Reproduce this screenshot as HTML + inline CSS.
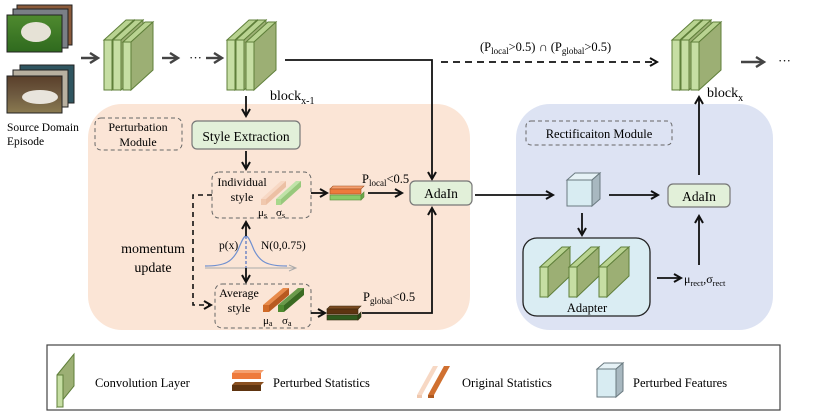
<!DOCTYPE html>
<html><head><meta charset="utf-8"><style>
html,body{margin:0;padding:0;background:#fff;}
svg{display:block;font-family:"Liberation Serif",serif;}
</style></head><body>
<svg width="831" height="416" viewBox="0 0 831 416" xmlns="http://www.w3.org/2000/svg">
<defs>
<marker id="ah" markerWidth="10" markerHeight="10" refX="8" refY="5" orient="auto" markerUnits="userSpaceOnUse"><path d="M1,1 L8,5 L1,9" fill="none" stroke="#111" stroke-width="2"/></marker>
<marker id="ahg" markerWidth="12" markerHeight="12" refX="9" refY="6" orient="auto" markerUnits="userSpaceOnUse"><path d="M1,1 L9,6 L1,11" fill="none" stroke="#444" stroke-width="2.4"/></marker>
<marker id="ahl" markerWidth="10" markerHeight="10" refX="8" refY="5" orient="auto" markerUnits="userSpaceOnUse"><path d="M1,2 L8,5 L1,8" fill="none" stroke="#aaa" stroke-width="1"/></marker>
<linearGradient id="grass" x1="0" y1="0" x2="0" y2="1"><stop offset="0" stop-color="#4f8a2f"/><stop offset="1" stop-color="#2f6a1e"/></linearGradient>
<linearGradient id="dirt" x1="0" y1="0" x2="0" y2="1"><stop offset="0" stop-color="#5a3f2a"/><stop offset="0.5" stop-color="#6e5a40"/><stop offset="1" stop-color="#8a7a50"/></linearGradient>
</defs>

<!-- backgrounds -->
<rect x="88" y="104" width="382" height="226" rx="34" fill="#fbe5d6"/>
<rect x="516" y="104" width="257" height="226" rx="34" fill="#dde3f3"/>

<!-- images -->
<g stroke="#222" stroke-width="1">
<rect x="17" y="5" width="55" height="40" fill="#8a5a3a"/>
<rect x="13" y="9" width="55" height="39" fill="#7a7f86"/>
<rect x="7" y="15" width="55" height="37" fill="url(#grass)"/>
<rect x="20" y="65" width="54" height="38" fill="#2f5560"/>
<rect x="13" y="70" width="55" height="37" fill="#b8b0a0"/>
<rect x="7" y="76" width="55" height="37" fill="url(#dirt)"/>
</g>
<ellipse cx="36" cy="32" rx="15" ry="10" fill="#e6e2d6"/>
<ellipse cx="40" cy="97" rx="18" ry="7" fill="#e8e4dc"/>
<text x="7" y="131" font-size="11.5">Source Domain</text>
<text x="7" y="145" font-size="11.5">Episode</text>

<!-- conv blocks -->
<g id="blk1" stroke="#5f7f3a" stroke-width="1">
<g><polygon points="104,40 126,20 134,20 112,40" fill="#b9d391"/><polygon points="112,40 134,20 134,70 112,90" fill="#9caf74"/><rect x="104" y="40" width="8" height="50" fill="#c6dea3"/></g>
<g><polygon points="113,40 135,20 143,20 121,40" fill="#b9d391"/><polygon points="121,40 143,20 143,70 121,90" fill="#9caf74"/><rect x="113" y="40" width="8" height="50" fill="#c6dea3"/></g>
<g><polygon points="123,42 145,22 153,22 131,42" fill="#b9d391"/><polygon points="131,42 153,22 153,70 131,90" fill="#9caf74"/><rect x="123" y="42" width="8" height="48" fill="#c6dea3"/></g>
</g>
<use href="#blk1" x="123" y="0"/>
<use href="#blk1" x="568" y="0"/>

<!-- top arrows -->
<line x1="81" y1="58" x2="98" y2="58" stroke="#444" stroke-width="2.4" marker-end="url(#ahg)"/>
<line x1="162" y1="58" x2="178" y2="58" stroke="#444" stroke-width="2.4" marker-end="url(#ahg)"/>
<text x="189" y="62" font-size="13">···</text>
<line x1="206" y1="58" x2="222" y2="58" stroke="#444" stroke-width="2.4" marker-end="url(#ahg)"/>
<line x1="741" y1="62" x2="764" y2="62" stroke="#444" stroke-width="2.4" marker-end="url(#ahg)"/>
<text x="778" y="65" font-size="13">···</text>

<text x="270" y="100" font-size="14">block<tspan font-size="10" dy="4">x-1</tspan></text>
<text x="707" y="97" font-size="14">block<tspan font-size="10" dy="4">x</tspan></text>

<!-- main line to AdaIn -->
<polyline points="285,60 432,60 432,179" fill="none" stroke="#111" stroke-width="1.8" marker-end="url(#ah)"/>
<line x1="441" y1="62" x2="657" y2="62" stroke="#111" stroke-width="1.8" stroke-dasharray="7,5" marker-end="url(#ah)"/>
<text x="480" y="51" font-size="12.5">(P<tspan font-size="9" dy="3">local</tspan><tspan dy="-3">&gt;0.5) ∩ (P</tspan><tspan font-size="9" dy="3">global</tspan><tspan dy="-3">&gt;0.5)</tspan></text>

<!-- perturbation module -->
<rect x="95" y="118" width="87" height="32" rx="6" fill="none" stroke="#666" stroke-dasharray="4,3"/>
<text x="138" y="131" font-size="12" text-anchor="middle">Perturbation</text>
<text x="138" y="146" font-size="12" text-anchor="middle">Module</text>
<line x1="246" y1="96" x2="246" y2="116" stroke="#111" stroke-width="1.8" marker-end="url(#ah)"/>
<rect x="192" y="121" width="108" height="28" rx="5" fill="#e2f0d9" stroke="#777" stroke-width="1.2"/>
<text x="246" y="141" font-size="13.5" text-anchor="middle">Style Extraction</text>
<line x1="246" y1="151" x2="246" y2="169" stroke="#111" stroke-width="1.8" marker-end="url(#ah)"/>

<!-- individual style -->
<rect x="212" y="172" width="99" height="46" rx="7" fill="none" stroke="#666" stroke-dasharray="4,3"/>
<text x="242" y="186" font-size="12" text-anchor="middle">Individual</text>
<text x="242" y="201" font-size="12" text-anchor="middle">style</text>
<polygon points="261,199 281,181 286,181 266,199" fill="#f7d8c4"/><rect x="261" y="199" width="5" height="6" fill="#f0c8ae"/><polygon points="266,199 286,181 286,187 266,205" fill="#ecc0a4"/>
<polygon points="276,199 296,181 301,181 281,199" fill="#bfe3a8"/><rect x="276" y="199" width="5" height="6" fill="#a8d88c"/><polygon points="281,199 301,181 301,187 281,205" fill="#98c87c"/>
<text x="258" y="216" font-size="11">μ<tspan font-size="8" dy="2">s</tspan></text>
<text x="276" y="216" font-size="11">σ<tspan font-size="8" dy="2">s</tspan></text>

<line x1="311" y1="193" x2="327" y2="193" stroke="#111" stroke-width="1.8" marker-end="url(#ah)"/>
<g stroke="#a05020" stroke-width="0.6">
<polygon points="330,189 333,186 364,186 361,189" fill="#f5a070"/><rect x="330" y="189" width="31" height="5" fill="#ee7a3c"/>
</g>
<g stroke="#5a8a3a" stroke-width="0.6">
<rect x="330" y="195" width="31" height="5" fill="#8ccc6a"/><polygon points="361,195 364,192 364,197 361,200" fill="#6aa84a"/>
</g>
<text x="362" y="183" font-size="12.5">P<tspan font-size="9" dy="3">local</tspan><tspan dy="-3">&lt;0.5</tspan></text>
<line x1="368" y1="193" x2="402" y2="193" stroke="#111" stroke-width="1.8" marker-end="url(#ah)"/>

<!-- AdaIn 1 -->
<rect x="410" y="181" width="62" height="24" rx="5" fill="#e2f0d9" stroke="#777" stroke-width="1.2"/>
<text x="441" y="198" font-size="13.5" text-anchor="middle">AdaIn</text>

<!-- momentum -->
<polyline points="212,195 193,195 193,305 211,305" fill="none" stroke="#111" stroke-width="1.6" stroke-dasharray="5,4" marker-end="url(#ah)"/>
<text x="153" y="253" font-size="14" text-anchor="middle">momentum</text>
<text x="153" y="272" font-size="14" text-anchor="middle">update</text>

<!-- gaussian -->
<line x1="205" y1="268" x2="296" y2="268" stroke="#aaa" stroke-width="1" marker-end="url(#ahl)"/>
<path d="M205,266 C225,266 232,262 238,250 C242,240 244,236 246,236 C248,236 250,240 254,250 C260,262 267,266 287,266" fill="none" stroke="#7090d0" stroke-width="1.2"/>
<line x1="246" y1="236" x2="246" y2="268" stroke="#5070c0" stroke-width="1.2" stroke-dasharray="3,2"/>
<line x1="246" y1="236" x2="246" y2="222" stroke="#111" stroke-width="1.8" marker-end="url(#ah)"/>
<line x1="246" y1="268" x2="246" y2="282" stroke="#111" stroke-width="1.8" marker-end="url(#ah)"/>
<text x="219" y="249" font-size="11.5">p(x)</text>
<text x="261" y="249" font-size="11.5">N(0,0.75)</text>

<!-- average style -->
<rect x="215" y="284" width="96" height="44" rx="7" fill="none" stroke="#666" stroke-dasharray="4,3"/>
<text x="239" y="297" font-size="12" text-anchor="middle">Average</text>
<text x="239" y="312" font-size="12" text-anchor="middle">style</text>
<polygon points="263,305 283,288 289,288 269,305" fill="#e88a4a"/><rect x="263" y="305" width="6" height="7" fill="#d06a28"/><polygon points="269,305 289,288 289,295 269,312" fill="#b85a20"/>
<polygon points="278,305 298,288 304,288 284,305" fill="#6a9a4a"/><rect x="278" y="305" width="6" height="7" fill="#4f8a30"/><polygon points="284,305 304,288 304,295 284,312" fill="#3a6a22"/>
<text x="263" y="324" font-size="11">μ<tspan font-size="8" dy="2">a</tspan></text>
<text x="282" y="324" font-size="11">σ<tspan font-size="8" dy="2">a</tspan></text>

<line x1="311" y1="313" x2="325" y2="313" stroke="#111" stroke-width="1.8" marker-end="url(#ah)"/>
<g stroke="#3a2a10" stroke-width="0.6">
<polygon points="327,309 330,306 361,306 358,309" fill="#7a4a20"/><rect x="327" y="309" width="31" height="5" fill="#5e3410"/>
<rect x="327" y="315" width="31" height="5" fill="#2f5a1e"/><polygon points="358,315 361,312 361,317 358,320" fill="#24481a"/>
</g>
<text x="363" y="301" font-size="12.5">P<tspan font-size="9" dy="3">global</tspan><tspan dy="-3">&lt;0.5</tspan></text>
<polyline points="362,313 432,313 432,208" fill="none" stroke="#111" stroke-width="1.8" marker-end="url(#ah)"/>

<!-- to rectification -->
<line x1="475" y1="195" x2="553" y2="195" stroke="#111" stroke-width="1.8" marker-end="url(#ah)"/>
<rect x="526" y="121" width="146" height="24" rx="5" fill="none" stroke="#666" stroke-dasharray="4,3"/>
<text x="599" y="138" font-size="12.5" text-anchor="middle">Rectificaiton Module</text>

<!-- cube -->
<g stroke="#6a7a80" stroke-width="1">
<polygon points="567,180 575,173 600,173 592,180" fill="#e6f2f6"/>
<polygon points="592,180 600,173 600,199 592,206" fill="#a8b8c0"/>
<rect x="567" y="180" width="25" height="26" fill="#d8ecf2"/>
</g>
<line x1="609" y1="195" x2="658" y2="195" stroke="#111" stroke-width="1.8" marker-end="url(#ah)"/>
<line x1="582" y1="213" x2="582" y2="235" stroke="#111" stroke-width="1.8" marker-end="url(#ah)"/>

<rect x="668" y="184" width="62" height="23" rx="5" fill="#e2f0d9" stroke="#777" stroke-width="1.2"/>
<text x="699" y="201" font-size="13.5" text-anchor="middle">AdaIn</text>

<!-- adapter -->
<rect x="523" y="238" width="127" height="78" rx="14" fill="#daedf3" stroke="#222" stroke-width="1.3"/>
<g id="ad" stroke="#5f7f3a" stroke-width="1">
<polygon points="540,267 562,247 570,247 548,267" fill="#b9d391"/>
<polygon points="548,267 570,247 570,276 548,297" fill="#9caf74"/>
<rect x="540" y="267" width="8" height="30" fill="#c6dea3"/>
</g>
<use href="#ad" x="29" y="0"/>
<use href="#ad" x="59" y="0"/>
<text x="587" y="312" font-size="12.5" text-anchor="middle">Adapter</text>
<line x1="657" y1="278" x2="681" y2="278" stroke="#111" stroke-width="1.8" marker-end="url(#ah)"/>
<text x="684" y="283" font-size="12">μ<tspan font-size="8.5" dy="3">rect</tspan><tspan dy="-3">,σ</tspan><tspan font-size="8.5" dy="3">rect</tspan></text>
<line x1="699" y1="265" x2="699" y2="216" stroke="#111" stroke-width="1.8" marker-end="url(#ah)"/>
<line x1="699" y1="175" x2="699" y2="97" stroke="#111" stroke-width="1.8" marker-end="url(#ah)"/>

<!-- legend -->
<rect x="47" y="345" width="733" height="65" fill="#fff" stroke="#444" stroke-width="1.2"/>
<g stroke="#5f7f3a" stroke-width="1">
<polygon points="57,375 74,354 74,386 57,407" fill="#9caf74"/>
<rect x="57" y="375" width="6" height="32" fill="#c6dea3"/>
</g>
<text x="95" y="387" font-size="12.5">Convolution Layer</text>
<polygon points="232,373 235,370 264,370 261,373" fill="#f5a070"/><rect x="232" y="373" width="29" height="6" fill="#ee7a3c"/>
<polygon points="232,385 235,382 264,382 261,385" fill="#8a5020"/><rect x="232" y="385" width="29" height="6" fill="#5e3410"/>
<text x="273" y="387" font-size="12.5">Perturbed Statistics</text>
<polygon points="417,395 433,366 438,366 422,395" fill="#f7d8c4"/><rect x="417" y="395" width="5" height="3" fill="#f0c8ae"/>
<polygon points="428,395 444,366 450,366 434,395" fill="#d07030"/><rect x="428" y="395" width="6" height="3" fill="#b05a20"/>
<text x="462" y="387" font-size="12.5">Original Statistics</text>
<g stroke="#6a7a80" stroke-width="1">
<polygon points="597,369 604,363 623,363 616,369" fill="#e6f2f6"/>
<polygon points="616,369 623,363 623,391 616,397" fill="#a8b8c0"/>
<rect x="597" y="369" width="19" height="28" fill="#d8ecf2"/>
</g>
<text x="633" y="387" font-size="12.5">Perturbed Features</text>
</svg>
</body></html>
